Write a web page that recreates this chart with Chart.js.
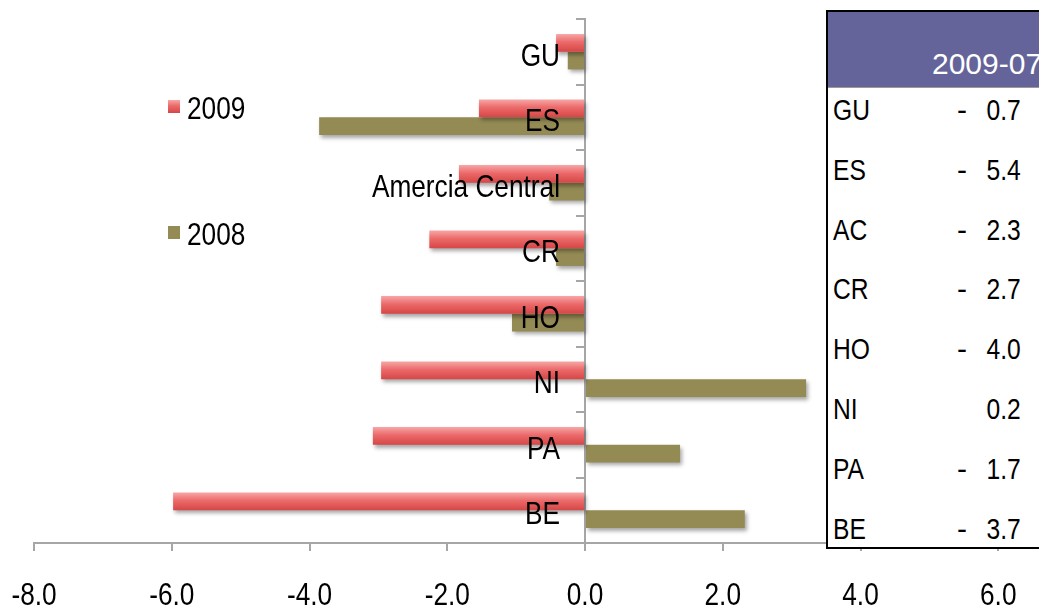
<!DOCTYPE html>
<html>
<head>
<meta charset="utf-8">
<script src="https://cdn.jsdelivr.net/npm/chart.js@4.4.0/dist/chart.umd.min.js"></script>
<style>
    html, body { margin: 0; padding: 0; background: #fff; overflow: hidden; width: 1039px; height: 608px; }
    #wrap { position: absolute; left: 0; top: 0; width: 1160px; height: 608px; }
    .narrow { display: inline-block; transform: scaleX(0.82); transform-origin: left center; white-space: nowrap; }
    .legend-item { position: absolute; left: 168px; font: 32px "Liberation Sans", Arial, sans-serif; color: #000; }
    .legend-item .swatch { position: absolute; left: 0; width: 12px; height: 13px; }
    .legend-item .txt { position: absolute; left: 19px; line-height: 32px; }
    #table { position: absolute; left: 826px; top: 10px; width: 320px; height: 535px; border: 2px solid #000; border-right: none; background: #fff;
        font: 30px "Liberation Sans", Arial, sans-serif; color: #000; }
    #table .head { position: absolute; left: 0; top: 0; right: 0; height: 75px; background: #64649a; border-bottom: 1px solid #9a9a9a; }
    #table .head span { position: absolute; left: 104px; top: 37px; color: #fff; line-height: 30px; white-space: nowrap; }
    #table .row { position: absolute; left: 0; right: 0; height: 30px; line-height: 30px; }
    #table .row .lab { position: absolute; left: 5px; }
    #table .row .dash { position: absolute; left: 129px; }
    #table .row .num { position: absolute; right: 127px; transform-origin: right center; }
</style>
</head>
<body>
<div id="wrap"><canvas id="chart"></canvas></div>
<div id="legend"></div>
<div id="table"></div>
<script>
const categories = ['GU', 'ES', 'Amercia Central', 'CR', 'HO', 'NI', 'PA', 'BE'];
const values2009 = [-0.42, -1.54, -1.83, -2.26, -2.96, -2.96, -3.08, -5.98];
const values2008 = [-0.25, -3.86, -0.52, -0.42, -1.06, 3.21, 1.38, 2.32];
const seriesLabels = ['2009', '2008'];
const xTicks = [-8, -6, -4, -2, 0, 2, 4, 6, 8];

const tableTitle = '2009-07';
const tableLabels = ['GU', 'ES', 'AC', 'CR', 'HO', 'NI', 'PA', 'BE'];
const tableValues = [-0.7, -5.4, -2.3, -2.7, -4.0, 0.2, -1.7, -3.7];

const FONT = '32px "Liberation Sans", Arial, sans-serif';
const SQUEEZE = 0.82;
const OLIVE = '#948a54';
const AXIS_GREY = '#a6a6a6';
const CAT_PCT = 0.54;

function redGradient(c) {
    const chart = c.chart;
    if (!chart.chartArea || c.type !== 'data') return '#e35d5d';
    const y = chart.scales.y;
    const center = y.getPixelForValue(c.dataIndex);
    const thick = y.height / categories.length * CAT_PCT / 2;
    const g = chart.ctx.createLinearGradient(0, center - thick, 0, center);
    g.addColorStop(0, '#f7a6a6');
    g.addColorStop(0.45, '#ec6a6a');
    g.addColorStop(1, '#d64646');
    return g;
}

function narrowText(ctx, text, x, y, align) {
    ctx.save();
    ctx.translate(x, y);
    ctx.scale(SQUEEZE, 1);
    ctx.textAlign = align;
    ctx.textBaseline = 'alphabetic';
    ctx.fillText(text, 0, 0);
    ctx.restore();
}

const shadowPlugin = {
    id: 'barShadow',
    beforeDatasetsDraw(chart) {
        const ctx = chart.ctx;
        ctx.save();
        ctx.shadowColor = 'rgba(0,0,0,0.35)';
        ctx.shadowBlur = 4;
        ctx.shadowOffsetX = 2;
        ctx.shadowOffsetY = 3;
    },
    afterDatasetsDraw(chart) {
        chart.ctx.restore();
    }
};

// condensed axis labels, placed with the chart's own scales
const labelPlugin = {
    id: 'narrowLabels',
    afterDraw(chart) {
        const ctx = chart.ctx;
        const x = chart.scales.x;
        const y = chart.scales.y;
        ctx.save();
        ctx.font = FONT;
        ctx.fillStyle = '#000';
        xTicks.forEach(v => {
            narrowText(ctx, v.toFixed(1), x.getPixelForValue(v), chart.chartArea.bottom + 62, 'center');
        });
        const zero = x.getPixelForValue(0);
        categories.forEach((c, i) => {
            narrowText(ctx, c, zero - 25, y.getPixelForValue(i) + 14, 'right');
        });
        ctx.restore();
    }
};

const chart = new Chart(document.getElementById('chart').getContext('2d'), {
    type: 'bar',
    data: {
        labels: categories,
        datasets: [
            { label: seriesLabels[0], data: values2009, backgroundColor: redGradient, borderWidth: 0,
              categoryPercentage: CAT_PCT, barPercentage: 1.0 },
            { label: seriesLabels[1], data: values2008, backgroundColor: OLIVE, borderWidth: 0,
              categoryPercentage: CAT_PCT, barPercentage: 1.0 }
        ]
    },
    plugins: [shadowPlugin, labelPlugin],
    options: {
        indexAxis: 'y',
        responsive: true,
        maintainAspectRatio: false,
        animation: false,
        layout: { padding: { left: 34, right: 24, top: 19, bottom: 0 } },
        plugins: {
            legend: { display: false },
            tooltip: { enabled: false }
        },
        scales: {
            x: {
                min: -8,
                max: 8,
                afterBuildTicks: (axis) => { axis.ticks = xTicks.map(v => ({ value: v })); },
                afterFit: (axis) => { axis.height = 65; },
                grid: { drawOnChartArea: false, drawTicks: true, tickLength: 8, color: AXIS_GREY, lineWidth: 2 },
                border: { display: true, color: AXIS_GREY, width: 2 },
                ticks: { display: false }
            },
            y: {
                position: { x: 0 },
                offset: true,
                grid: { drawOnChartArea: false, drawTicks: true, tickLength: 8, color: AXIS_GREY, lineWidth: 2, offset: true },
                border: { display: true, color: AXIS_GREY, width: 2 },
                ticks: { display: false }
            }
        }
    }
});

// legend
const legend = document.getElementById('legend');
const legendTops = [92, 218];
seriesLabels.forEach((lab, i) => {
    const item = document.createElement('div');
    item.className = 'legend-item';
    item.style.top = legendTops[i] + 'px';
    const sw = document.createElement('div');
    sw.className = 'swatch';
    sw.style.top = '8px';
    sw.style.background = i === 0 ? 'linear-gradient(#f7a6a6, #ec6a6a 45%, #d64646)' : OLIVE;
    const t = document.createElement('div');
    t.className = 'txt';
    t.innerHTML = '<span class="narrow">' + lab + '</span>';
    item.appendChild(sw);
    item.appendChild(t);
    legend.appendChild(item);
});

// side table
const table = document.getElementById('table');
const head = document.createElement('div');
head.className = 'head';
head.innerHTML = '<span>' + tableTitle + '</span>';
table.appendChild(head);
const rowStep = 59.8;
tableLabels.forEach((lab, i) => {
    const row = document.createElement('div');
    row.className = 'row';
    row.style.top = (83 + rowStep * i) + 'px';
    const v = tableValues[i];
    row.innerHTML = '<span class="lab narrow">' + lab + '</span>' +
        (v < 0 ? '<span class="dash">-</span>' : '') +
        '<span class="num narrow">' + Math.abs(v).toFixed(1) + '</span>';
    table.appendChild(row);
});
</script>
</body>
</html>
